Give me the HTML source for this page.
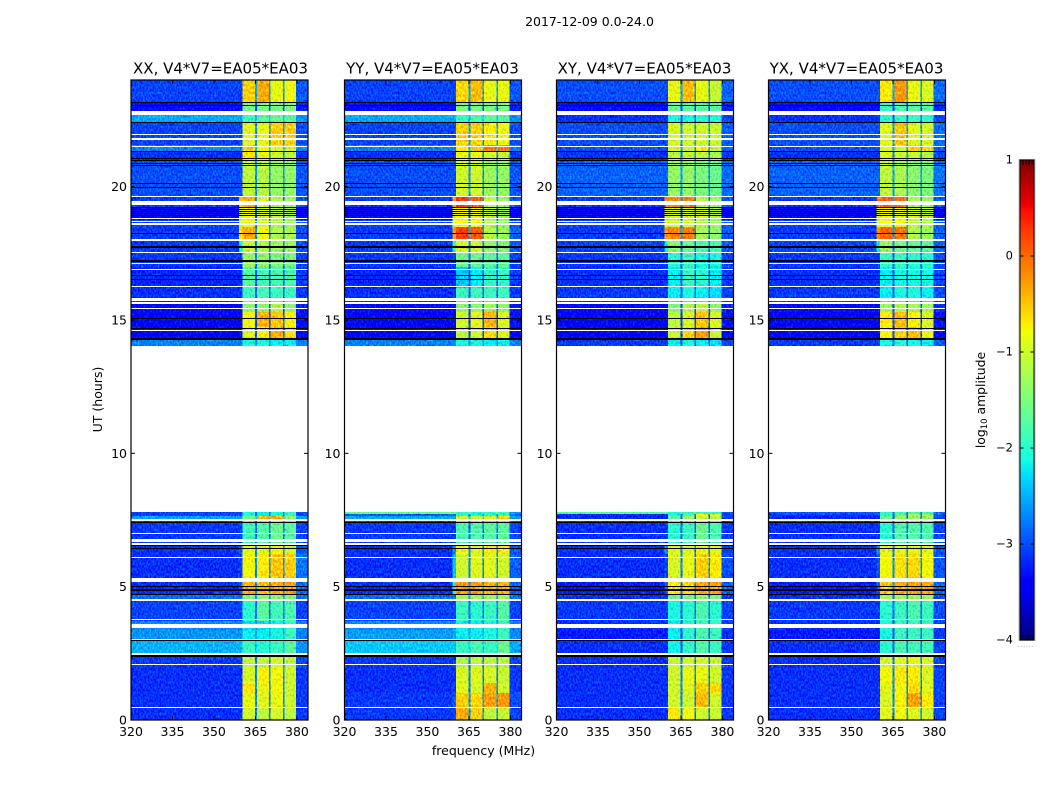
<!DOCTYPE html>
<html>
<head>
<meta charset="utf-8">
<title>2017-12-09 0.0-24.0 dynamic spectra</title>
<style>
html,body{margin:0;padding:0;background:#fff;width:1050px;height:800px;overflow:hidden}
svg{display:block}
text{font-family:"DejaVu Sans","Liberation Sans",sans-serif;fill:#000}
</style>
</head>
<body>
<svg id="chart" xmlns="http://www.w3.org/2000/svg" width="1050" height="800" viewBox="0 0 1050 800">
<defs>
<filter id="grain" x="0" y="0" width="100%" height="100%" color-interpolation-filters="sRGB">
<feTurbulence type="fractalNoise" baseFrequency="0.6 0.38" numOctaves="1" seed="7" result="t"/>
<feColorMatrix in="t" type="matrix" values="0.2 0 0 0 0.4 1 0 0 0 0 0 0 0 0 0.5 0 0 0 0 1" result="g"/>
<feComposite in="SourceGraphic" in2="g" operator="arithmetic" k1="0" k2="1" k3="0.9" k4="-0.45" result="m"/>
<feComposite in="m" in2="SourceAlpha" operator="in"/>
</filter>
</defs>
<text x="589.5" y="26" text-anchor="middle" font-size="12.5">2017-12-09 0.0-24.0</text>
<text x="483.5" y="755" text-anchor="middle" font-size="12.5">frequency (MHz)</text>
<text transform="translate(102,399.5) rotate(-90)" text-anchor="middle" font-size="12.5">UT (hours)</text>
<text transform="translate(985,400) rotate(-90)" text-anchor="middle" font-size="12.4">log<tspan font-size="8.5" dy="2">10</tspan><tspan dy="-2"> amplitude</tspan></text>
<g id="panels"></g>
<g id="cbar"></g>
</svg>
<script>
// ---- axis data ----
const freqTicks = [320, 335, 350, 365, 380];
const timeTicks = [0, 5, 10, 15, 20];
const colorTicks = [1, 0, -1, -2, -3, -4];
const n = null;
// UT hour boundaries of each block of rows
const timeEdges = [0,.49,1.01,1.39,1.99,2.51,3,3.38,3.71,4.46,4.73,5.33,6.22,6.56,7.46,7.65,7.74,7.8,14.03,14.25,14.74,15.3,15.64,16.2,16.99,17.55,18.04,18.49,18.75,19.24,19.65,21,21.3,21.56,22.43,22.69,23.18,24];
// frequency boundaries (MHz): background, band edge, channel 1, gap, channel 2, gap, channel 3, gap, channel 4, tail
const freqEdges = [320,359,360.3,364.9,365.5,369.9,370.5,374.9,375.5,379.7,384];
// flagged rows shared by all four baselines (UT hours)
const blankRows = [[.45,.49],[2.06,2.1],[2.43,2.5],[3,3.03],[3.44,3.6],[3.75,3.79],[4.46,4.54],[5.16,5.31],[6.08,6.12],[6.57,6.63],[6.69,6.78],[6.98,7.02],[7.46,7.53],[14.59,14.63],[15.4,15.46],[15.6,15.68],[15.72,15.81],[16.24,16.28],[16.87,16.92],[17.1,17.15],[17.5,17.56],[17.96,18.03],[18.56,18.63],[18.69,18.73],[18.77,18.84],[19.31,19.37],[19.4,19.48],[19.61,19.65],[21.49,21.53],[21.75,21.84],[21.94,21.99],[22.69,22.85]];
const zeroRows = [[2.38,2.42],[2.96,3],[4.67,4.73],[4.84,4.91],[4.99,5.03],[6.41,6.45],[6.51,6.55],[7.37,7.44],[14.25,14.33],[14.66,14.7],[15.04,15.08],[16.5,16.54],[16.65,16.69],[17.16,17.2],[17.21,17.25],[17.7,17.77],[18.24,18.28],[18.89,18.93],[18.98,19.02],[19.06,19.1],[19.13,19.17],[19.2,19.24],[19.95,19.99],[20.1,20.14],[20.76,20.8],[20.85,20.89],[20.96,21],[21.04,21.08],[21.3,21.33],[22.41,22.44],[23.03,23.08],[23.14,23.18]];
const panelTitles = ["XX, V4*V7=EA05*EA03","YY, V4*V7=EA05*EA03","XY, V4*V7=EA05*EA03","YX, V4*V7=EA05*EA03"];

// ---- XX ----
const xxBack = [-3.15,-3.15,-3.15,-3.15,-3.1,-2.5,-2.65,-2.7,-3.05,-2.85,-3.15,-3.15,-3.15,-3.1,-2.6,-3.05,-3.05,n,-2.75,-3.5,-3.5,-3.35,-3.15,-3.2,-3.1,-3.1,-3.1,-3.05,-3.5,-3.1,-3,-3.15,-2.75,-3.05,-2.55,-3.35,-3.05];
const xxEdge = [-3.15,-3.15,-3.15,-3.15,-3.1,-2.5,-2.65,-2.7,-3.05,-2.85,-2.9,-3.05,-2.9,-3.1,-2.6,-3.05,-3.05,n,-2.75,-3.5,-3.5,-3.35,-3.15,-3.2,-3.1,-2.2,-.7,-1.1,-1.1,-.5,-3,-3.15,-2.75,-3.05,-2.55,-3.35,-3.05];
const xxCh1 = [-1,-.85,-.7,-.95,-1.1,-1.9,-2.2,-2.3,-2,-1.5,-.4,-.8,-.9,-1.9,-1.5,-2.1,-2.1,n,-2.1,-.9,-.8,-1.4,-1.9,-1.75,-1.35,-1.05,-.35,-.85,-.8,-.35,-1.1,-.7,-.55,-.9,-1.9,-1.5,-.55];
const xxCh2 = [-1.1,-.9,-.85,-.75,-1.1,-2,-2.2,-2.3,-1.7,-1.4,-.45,-.7,-.95,-1.75,-.4,-2.2,-2.2,n,-2.1,-.7,-.4,-1.4,-1.85,-1.85,-1.4,-1.2,-.8,-1,-.95,-.95,-1.15,-.85,-.8,-.85,-1.7,-1.5,-.35];
const xxCh3 = [-.95,-.85,-.8,-.8,-1,-1.9,-2.1,-2.2,-1.85,-1.4,-.35,-.5,-.8,-1.6,-.35,-2.1,-2.1,n,-2.2,-.4,-.5,-1.2,-1.9,-1.8,-1.5,-1.3,-1.2,-1.2,-1.15,-1.2,-1.35,-1,-.9,-.55,-1.6,-1.5,-.85];
const xxCh4 = [-1.1,-1,-1,-1,-1.1,-1.7,-1.9,-2,-1.8,-1.5,-.3,-.55,-1,-1.7,-1.4,-1.9,-1.9,n,-2.2,-.6,-.75,-1.4,-1.9,-1.8,-1.5,-1.3,-1.2,-1.3,-1.25,-1.3,-1.35,-1.1,-1,-.55,-1.7,-1.5,-.8];
const xxTail = [-3.1,-3.1,-3.1,-3.1,-3.05,-2.65,-2.75,-2.75,-3.05,-2.85,-2.85,-2.8,-2.95,-3.05,-2.65,-3,-3,n,-2.75,-3.4,-3.3,-3.25,-3.1,-3.1,-3.05,-3,-3,-3,-3.4,-3,-2.95,-3.1,-2.75,-3,-2.65,-3.25,-2.95];

// ---- YY ----
const yyBack = [-3.1,-3.1,-3.15,-3.15,-3.1,-2.4,-2.6,-2.7,-3.05,-2.85,-3.15,-3.15,-3.15,-3.1,-2.55,-2.95,-1.6,n,-2.75,-3.5,-3.5,-3.35,-3.15,-3.2,-3.1,-3.1,-3.1,-3.05,-3.5,-3.1,-3,-3.15,-2.75,-3.05,-2.55,-3.35,-3.05];
const yyEdge = [-3.05,-2.95,-3.05,-3.15,-3.1,-2.4,-2.6,-2.7,-3.05,-2.85,-2.1,-2.4,-2.7,-3.1,-2.55,-2.95,-1.6,n,-2.75,-3.5,-3.5,-3.35,-3.15,-3.2,-3.1,-2,-.3,-1,-.9,-.15,-3,-3.15,-2.75,-3.05,-2.55,-3.35,-3.05];
const yyCh1 = [-.35,-.55,-.9,-.95,-1.2,-1.9,-2.2,-2.2,-1.9,-1.3,-.25,-1,-.8,-1.8,-.95,-2,-2,n,-2.1,-1.1,-1,-1.4,-1.9,-2.4,-1.6,-.95,.25,-.75,-.8,.25,-1,-.85,-.7,-.55,-1.9,-1.5,-.6];
const yyCh2 = [-.55,-.6,-.95,-.9,-1.1,-1.8,-2.2,-2.2,-2,-1.3,-.3,-.9,-.9,-1.75,-1,-2.1,-2.1,n,-2.1,-1,-.9,-1.4,-1.9,-2.2,-1.6,-1,.1,-.75,-.85,.05,-1,-.85,-.5,-.55,-1.8,-1.5,-.45];
const yyCh3 = [-1.1,-.3,-.4,-.95,-1.1,-1.9,-2.1,-2.1,-1.9,-1.3,-.4,-.9,-.7,-1.7,-.9,-2,-2,n,-2.2,-.6,-.4,-1.3,-1.9,-1.95,-1.7,-1.4,-1.15,-1.2,-1.1,-1.1,-1.3,-1,-.1,-.7,-1.7,-1.5,-.85];
const yyCh4 = [-1.05,-.25,-1,-1.05,-1.15,-1.6,-1.9,-1.9,-1.75,-1.3,-.4,-1,-.7,-1.7,-.6,-1.9,-1.9,n,-2.2,-.9,-.95,-1.4,-1.9,-1.95,-1.7,-1.45,-1.3,-1.35,-1.3,-1.3,-1.35,-1.1,-.1,-.8,-1.7,-1.5,-.85];
const yyTail = [-3.05,-3,-3.1,-3.1,-3.05,-2.55,-2.7,-2.75,-3.05,-2.85,-2.9,-2.9,-2.95,-3.05,-2.6,-2.9,-2.65,n,-2.75,-3.4,-3.3,-3.25,-3.1,-3.1,-3.05,-2.95,-2.9,-2.95,-3.4,-2.95,-2.95,-3.1,-2.75,-3,-2.65,-3.25,-2.95];

// ---- XY ----
const xyBack = [-3.15,-3.15,-3.15,-3.15,-3.15,-3.15,-3.25,-3.15,-3.1,-3.15,-3.25,-3.15,-3.15,-3.15,-3.2,-3.15,-1.7,n,-3.1,-3.5,-3.5,-3.35,-3.1,-3.15,-3.1,-3.05,-3.1,-3.05,-3.5,-3.1,-2.9,-3.15,-3,-3,-3.15,-3.35,-3];
const xyEdge = [-3.15,-3.15,-3.15,-3.15,-3.15,-3.15,-3.25,-3.15,-3.1,-3.15,-2.85,-3.05,-2.65,-3.15,-3.2,-3.15,-1.7,n,-3.1,-3.5,-3.5,-3.35,-3.1,-3.15,-3.1,-2.2,-.3,-1,-1,-.2,-2.9,-3.15,-3,-3,-3.15,-3.35,-3];
const xyCh1 = [-.7,-1,-1,-1,-1.05,-2.15,-2.2,-2.2,-2.1,-1.6,-.7,-.95,-.9,-2,-1.7,-2.1,-2.1,n,-2.2,-1.05,-1.1,-1.5,-2.2,-2.2,-2,-1.4,-.15,-1,-1,-.15,-1.35,-1.15,-.95,-.95,-2.1,-1.6,-.85];
const xyCh2 = [-.8,-1,-.9,-.85,-1,-1.95,-2,-2,-2,-1.5,-.6,-.85,-.95,-1.9,-1.3,-1.8,-2,n,-2.1,-.55,-.95,-1.2,-2.1,-1.9,-1.9,-1.6,-.1,-1,-1,-.1,-1.35,-1.1,-1,-1,-2.1,-1.7,-.45];
const xyCh3 = [-1,-.45,-.55,-.85,-1,-1.75,-1.8,-1.9,-1.8,-1.4,-.35,-.55,-.85,-1.6,-1,-.8,-1.9,n,-2.2,-.3,-.5,-1.1,-2.2,-2,-2.1,-1.75,-1.25,-1.15,-1,-1.15,-1.5,-1.1,-.65,-1,-2,-1.7,-.85];
const xyCh4 = [-1.05,-1,-.6,-1,-1.05,-1.9,-1.9,-1.9,-2,-1.5,-.3,-.7,-.9,-1.8,-1.1,-.9,-2,n,-2.3,-1.05,-.95,-1.4,-2.3,-2.2,-2.1,-1.8,-1.4,-1.3,-1.2,-1.3,-1.6,-1.25,-1.1,-1.05,-2,-1.7,-1.05];
const xyTail = [-3.1,-3.1,-3.1,-3.1,-3.1,-3.1,-3.15,-3.1,-3.05,-3.1,-2.9,-3,-3.05,-3.1,-3.1,-3.05,-2.95,n,-3.05,-3.4,-3.3,-3.25,-3.05,-3.1,-3.05,-2.95,-2.95,-2.95,-3.4,-2.95,-2.85,-3.1,-2.95,-2.9,-3.05,-3.25,-2.9];

// ---- YX ----
const yxBack = [-3.15,-3.15,-3.15,-3.15,-3.15,-3.15,-3.25,-3.15,-3.1,-3.15,-3.25,-3.15,-3.15,-3.15,-3.2,-3.1,-2.95,n,-3.1,-3.5,-3.5,-3.35,-3.1,-3.15,-3.1,-3.05,-3.1,-3.05,-3.5,-3.1,-2.9,-3.15,-3,-3,-3.15,-3.35,-3];
const yxEdge = [-3.15,-3.15,-3.15,-3.15,-3.15,-3.15,-3.25,-3.15,-3.1,-3.15,-2.85,-2.95,-2.65,-3.15,-3.2,-3.1,-2.95,n,-3.1,-3.5,-3.5,-3.35,-3.1,-3.15,-3.1,-2.2,-.2,-.9,-.9,-.1,-2.9,-3.15,-3,-3,-3.15,-3.35,-3];
const yxCh1 = [-.9,-.95,-.9,-.8,-1,-2,-2.1,-2.1,-2,-1.3,-.5,-.8,-.9,-2,-1.6,-2,-2,n,-2.1,-.75,-.7,-1.3,-2.2,-2.2,-1.9,-1.3,.05,-.8,-.8,.05,-1.1,-.95,-.9,-.9,-2,-1.9,-.7];
const yxCh2 = [-.8,-.75,-.8,-.7,-.9,-1.8,-1.9,-1.9,-1.9,-1.3,-.4,-.65,-.9,-1.75,-1.3,-1.7,-1.9,n,-2,-.55,-.45,-1.2,-2.1,-2.1,-1.9,-1.5,-.05,-.75,-.85,-.05,-1.2,-1.05,-1,-.5,-1.9,-1.8,-.25];
const yxCh3 = [-.9,-.3,-.6,-.7,-.85,-1.85,-1.9,-1.9,-1.8,-1.3,-.3,-.6,-.9,-1.75,-1.3,-1.2,-1.9,n,-2.1,-.45,-.75,-1.25,-2.1,-2.1,-2,-1.65,-1.2,-1.1,-1,-1.2,-1.4,-1.05,-.55,-.9,-1.9,-1.7,-.85];
const yxCh4 = [-1,-.7,-.9,-.95,-.95,-1.85,-1.9,-1.9,-1.9,-1.3,-.35,-.8,-.9,-1.8,-1.3,-1.3,-1.9,n,-2.2,-.85,-.95,-1.3,-2.2,-2.1,-2,-1.7,-1.3,-1.2,-1.1,-1.3,-1.5,-1.2,-.6,-1,-2,-1.7,-.95];
const yxTail = [-3.05,-3.05,-3.05,-3.05,-3.05,-3.05,-3.1,-3.05,-3,-3.05,-2.85,-2.95,-3,-3.05,-3.05,-3,-2.85,n,-2.95,-3.35,-3.3,-3.15,-3,-3.05,-3,-2.9,-2.9,-2.9,-3.35,-2.9,-2.8,-3.05,-2.9,-2.85,-3,-3.2,-2.85];

const panelSeries = [
  [xxBack,xxEdge,xxCh1,xxCh2,xxCh3,xxCh4,xxTail],
  [yyBack,yyEdge,yyCh1,yyCh2,yyCh3,yyCh4,yyTail],
  [xyBack,xyEdge,xyCh1,xyCh2,xyCh3,xyCh4,xyTail],
  [yxBack,yxEdge,yxCh1,yxCh2,yxCh3,yxCh4,yxTail]
];
const seriesNames = ["xx","yy","xy","yx"];

// ---- layout and scales ----
const SVGNS = "http://www.w3.org/2000/svg";
const plotLefts = [131, 344.5, 556.5, 768.5];
const plotWidth = 177, plotTop = 80, plotBottom = 720;
const cbLeft = 1019.5, cbRight = 1034.5, cbTop = 160, cbBottom = 640;
const xScale = (f, left) => left + (f - 320) / 64 * plotWidth;
const yScale = t => plotBottom - t / 24 * (plotBottom - plotTop);
const cScale = v => cbBottom - (v + 4) / 5 * (cbBottom - cbTop);

function jet(v) {
  const t = Math.max(0, Math.min(1, (v + 4) / 5));
  const lerp = (pts) => {
    for (let i = 1; i < pts.length; i++) {
      if (t <= pts[i][0]) {
        const a = pts[i-1], b = pts[i];
        return a[1] + (b[1]-a[1]) * (t-a[0]) / (b[0]-a[0]);
      }
    }
    return pts[pts.length-1][1];
  };
  const r = lerp([[0,0],[.35,0],[.66,1],[.89,1],[1,.5]]);
  const g = lerp([[0,0],[.125,0],[.375,1],[.64,1],[.91,0],[1,0]]);
  const b = lerp([[0,.5],[.11,1],[.34,1],[.65,0],[1,0]]);
  return "rgb(" + Math.round(r*255) + "," + Math.round(g*255) + "," + Math.round(b*255) + ")";
}
function make(tag, attrs, parent) {
  const el = document.createElementNS(SVGNS, tag);
  for (const k in attrs) el.setAttribute(k, attrs[k]);
  parent.appendChild(el);
  return el;
}
function lineOf(x1, y1, x2, y2, parent, name) {
  const el = make("line", {x1:x1, y1:y1, x2:x2, y2:y2, stroke:"#000", "stroke-width":1}, parent);
  
  
  return el;
}

const panelsRoot = document.getElementById("panels");
panelSeries.forEach((series, p) => {
  const left = plotLefts[p];
  const key = seriesNames[p];
  const g = make("g", {}, panelsRoot);
  
  

  const heat = make("g", {filter:"url(#grain)", "shape-rendering":"crispEdges"}, g);
  
  

  // column values for one row: background, edge, ch1, gap, ch2, gap, ch3, gap, ch4, tail
  for (let r = 0; r < timeEdges.length - 1; r++) {
    const bk = series[0][r];
    if (bk === null) continue;
    const c1 = series[2][r], c2 = series[3][r], c3 = series[4][r], c4 = series[5][r];
    const gap = (a, b) => bk + ((a + b) / 2 - bk) * 0.18;
    const cols = [bk, series[1][r], c1, gap(c1, c2), c2, gap(c2, c3), c3, gap(c3, c4), c4, series[6][r]];
    const y0 = Math.round(yScale(timeEdges[r+1])), y1 = Math.round(yScale(timeEdges[r]));
    for (let c = 0; c < cols.length; c++) {
      const x0 = xScale(freqEdges[c], left), x1 = xScale(freqEdges[c+1], left);
      const cell = make("rect", {x:x0, y:y0, width:x1-x0, height:y1-y0, fill:jet(cols[c])}, heat);
      
      
    }
  }

  const flags = make("g", {"shape-rendering":"crispEdges"}, g);
  
  
  const flagRow = (span, color, name) => {
    const y0 = Math.round(yScale(span[1]));
    const h = Math.max(1, Math.round(yScale(span[0])) - y0);
    const el = make("rect", {x:left, y:y0, width:plotWidth, height:h, fill:color}, flags);
    
    
  };
  blankRows.forEach(s => flagRow(s, "#fff", "blank-row"));
  zeroRows.forEach(s => flagRow(s, "#000", "zero-row"));

  const frame = make("rect", {x:left, y:plotTop, width:plotWidth, height:plotBottom-plotTop, fill:"none", stroke:"#000", "stroke-width":1.2}, g);
  
  

  freqTicks.forEach(f => {
    const x = xScale(f, left);
    lineOf(x, plotBottom, x, plotBottom-4, g, 'x-tick');
    lineOf(x, plotTop, x, plotTop+4, g, 'x-tick-top');
    const t = make("text", {x:x, y:736, "text-anchor":"middle", "font-size":12.5}, g);
    t.textContent = f;
    
    
  });
  timeTicks.forEach(v => {
    const y = yScale(v);
    lineOf(left, y, left+4, y, g, 'y-tick');
    lineOf(left+plotWidth, y, left+plotWidth-4, y, g, 'y-tick-right');
    const t = make("text", {x:left-4, y:y+4.5, "text-anchor":"end", "font-size":12.5}, g);
    t.textContent = v;
    
    
  });
  const title = make("text", {x:left+plotWidth/2+(p===0?1:-0.5), y:73.5, "text-anchor":"middle", "font-size":15}, g);
  title.textContent = panelTitles[p];
  
  
});

// ---- colorbar ----
const cb = document.getElementById("cbar");
const ramp = make("g", {"shape-rendering":"crispEdges"}, cb);


for (let y = cbTop; y < cbBottom; y += 2) {
  const v = 1 - (y - cbTop + 1) / (cbBottom - cbTop) * 5;
  const s = make("rect", {x:cbLeft, y:y, width:cbRight-cbLeft, height:2, fill:jet(v)}, ramp);
  
  
}
const cbHalo = make("rect", {x:cbLeft-.5, y:cbTop-.5, width:cbRight-cbLeft+1, height:cbBottom-cbTop+1, fill:"none", stroke:"#bbb", "stroke-width":1}, cb);


const cbFrame = make("rect", {x:cbLeft+.5, y:cbTop, width:cbRight-cbLeft-1, height:cbBottom-cbTop, fill:"none", stroke:"#000", "stroke-width":1}, cb);


colorTicks.forEach(v => {
  const y = cScale(v);
  lineOf(cbLeft, y, cbLeft+4, y, cb, 'colorbar-tick');
  lineOf(cbRight, y, cbRight-4, y, cb, 'colorbar-tick-right');
  const t = make("text", {x:1013, y:y+3.5, "text-anchor":"end", "font-size":11.5}, cb);
  t.textContent = String(v).replace("-", "\u2212");
  
  
});
[1023, 1026, 1029, 1032].forEach(x => {
  lineOf(x, cbTop, x, cbTop+5, cb, 'colorbar-minor-tick-top');
  lineOf(x, cbBottom, x, cbBottom-5, cb, 'colorbar-minor-tick-bottom');
});
const dots = make("text", {x:1026, y:647, "text-anchor":"middle", "font-size":6, "letter-spacing":"1", style:"fill:#777"}, cb);
dots.textContent = "......";


</script>
</body>
</html>
